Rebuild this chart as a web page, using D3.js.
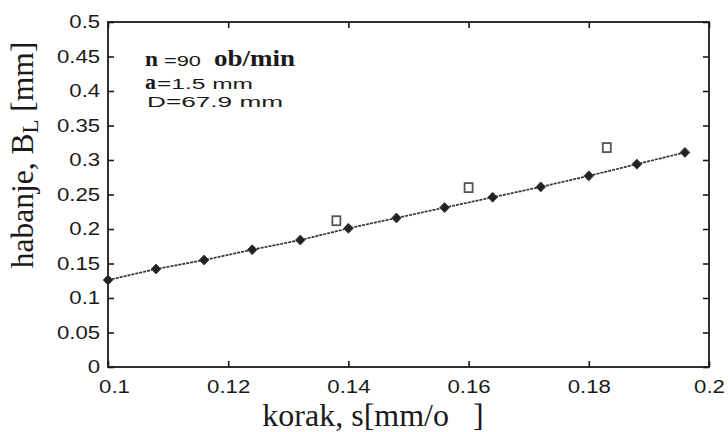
<!DOCTYPE html>
<html>
<head>
<meta charset="utf-8">
<script src="https://cdn.jsdelivr.net/npm/d3@7"></script>
<style>
  html, body { margin: 0; padding: 0; background: #fff; }
  svg { display: block; }
</style>
</head>
<body>
<svg id="chart" width="728" height="432"></svg>
<script>
// ---- data ----
const feedDiamond = [0.100, 0.108, 0.116, 0.124, 0.132, 0.140, 0.148, 0.156, 0.164, 0.172, 0.180, 0.188, 0.196];
const wearDiamond = [0.126, 0.142, 0.155, 0.170, 0.184, 0.201, 0.216, 0.231, 0.246, 0.261, 0.277, 0.294, 0.311];
const feedSquare = [0.138, 0.160, 0.183];
const wearSquare = [0.212, 0.260, 0.318];
const xTickValues = [0.1, 0.12, 0.14, 0.16, 0.18, 0.2];
const yTickValues = [0, 0.05, 0.1, 0.15, 0.2, 0.25, 0.3, 0.35, 0.4, 0.45, 0.5];
const xTitle = "korak, s[mm/o   ]";
const annotations = ["n", "=90", "ob/min", "a", "=1.5 mm", "D=67.9 mm"];

const svg = d3.select("#chart");
const L = 108, R = 709, T = 22, B = 367;
const x = d3.scaleLinear().domain([0.1, 0.2]).range([L, R]);
const y = d3.scaleLinear().domain([0, 0.5]).range([B, T]);
const ink = "#1a1a1a";
const fmt = d3.format("~g");
const sansScale = 1.2;

// axes with inward ticks
const gLeft = svg.append("g").attr("transform", `translate(${L},0)`)
  .call(d3.axisLeft(y).tickValues(yTickValues).tickSize(-6).tickPadding(6.5).tickFormat(fmt));
const gBottom = svg.append("g").attr("transform", `translate(0,${B})`)
  .call(d3.axisBottom(x).tickValues(xTickValues).tickSize(-6).tickPadding(13).tickFormat(fmt));
const gTop = svg.append("g").attr("transform", `translate(0,${T})`)
  .call(d3.axisTop(x).tickValues(xTickValues).tickSize(-6).tickFormat(""));
const gRight = svg.append("g").attr("transform", `translate(${R},0)`)
  .call(d3.axisRight(y).tickValues(yTickValues).tickSize(-6).tickFormat(""));

[gLeft, gBottom, gTop, gRight].forEach(g => {
  g.select(".domain").remove();
  g.selectAll(".tick line").attr("stroke", ink).attr("stroke-width", 1.6);
  g.selectAll(".tick text")
    .attr("fill", ink)
    .attr("font-family", "'Liberation Sans', Arial, sans-serif")
    .attr("font-size", 18.5)
    .attr("transform", `scale(${sansScale},1)`);
});
// keep bottom labels centred after horizontal scaling (first one sits a bit right, as in the original)
gBottom.selectAll(".tick text").attr("x", (d, i) => i === 0 ? 5 : 0);

// frame
svg.append("rect")
  .attr("x", L).attr("y", T).attr("width", R - L).attr("height", B - T)
  .attr("fill", "none").attr("stroke", ink).attr("stroke-width", 1.8);

// fitted line through diamonds
const pts = feedDiamond.map((s, i) => [s, wearDiamond[i]]);
svg.append("path")
  .datum(pts)
  .attr("fill", "none")
  .attr("stroke", "#333")
  .attr("stroke-width", 1.7)
  .attr("stroke-dasharray", "3,1")
  .attr("d", d3.line().x(d => x(d[0])).y(d => y(d[1])));

// diamond markers
svg.append("g").selectAll("path")
  .data(pts)
  .join("path")
  .attr("transform", d => `translate(${x(d[0])},${y(d[1])})`)
  .attr("d", "M0,-5 L4.8,0 L0,5 L-4.8,0 Z")
  .attr("fill", "#222")
  .attr("stroke", "#444")
  .attr("stroke-width", 1);

// square markers (hollow)
const sq = feedSquare.map((s, i) => [s, wearSquare[i]]);
svg.append("g").selectAll("rect")
  .data(sq)
  .join("rect")
  .attr("x", d => x(d[0]) - 4)
  .attr("y", d => y(d[1]) - 4.5)
  .attr("width", 8)
  .attr("height", 9)
  .attr("fill", "#fff")
  .attr("stroke", "#555")
  .attr("stroke-width", 1.8);

// axis titles
svg.append("text")
  .attr("x", 373)
  .attr("y", 426)
  .attr("text-anchor", "middle")
  .attr("font-family", "'Liberation Serif', 'Times New Roman', serif")
  .attr("font-size", 32)
  .attr("fill", ink)
  .style("white-space", "pre")
  .text(xTitle);

const yt = svg.append("text")
  .attr("transform", "translate(33,155) rotate(-90)")
  .attr("text-anchor", "middle")
  .attr("font-family", "'Liberation Serif', 'Times New Roman', serif")
  .attr("font-size", 31.5)
  .attr("fill", ink)
  .style("white-space", "pre");
yt.append("tspan").text("habanje, B");
yt.append("tspan").attr("font-size", 23).attr("dy", 5).text("L");
yt.append("tspan").attr("dy", -5).text(" [mm]");

// annotations
const serif = "'Liberation Serif', 'Times New Roman', serif";
const sans = "'Liberation Sans', Arial, sans-serif";
const ann = svg.append("g").attr("fill", ink);
ann.append("text").attr("x", 145).attr("y", 65.5).attr("font-family", serif)
  .attr("font-weight", "bold").attr("font-size", 20).attr("textLength", 13)
  .attr("lengthAdjust", "spacingAndGlyphs").text(annotations[0]);
ann.append("text").attr("x", 164).attr("y", 65.5).attr("font-family", sans)
  .attr("font-size", 14).attr("textLength", 37).attr("lengthAdjust", "spacingAndGlyphs").text(annotations[1]);
ann.append("text").attr("x", 214).attr("y", 65.5).attr("font-family", serif)
  .attr("font-weight", "bold").attr("font-size", 23).attr("textLength", 81)
  .attr("lengthAdjust", "spacingAndGlyphs").text(annotations[2]);
ann.append("text").attr("x", 145).attr("y", 88.5).attr("font-family", serif)
  .attr("font-weight", "bold").attr("font-size", 20).attr("textLength", 11)
  .attr("lengthAdjust", "spacingAndGlyphs").text(annotations[3]);
ann.append("text").attr("x", 157).attr("y", 88.5).attr("font-family", sans)
  .attr("font-size", 15).attr("textLength", 96).attr("lengthAdjust", "spacingAndGlyphs").text(annotations[4]);
ann.append("text").attr("x", 147).attr("y", 107).attr("font-family", sans)
  .attr("font-size", 15).attr("textLength", 136).attr("lengthAdjust", "spacingAndGlyphs").text(annotations[5]);
</script>
</body>
</html>
